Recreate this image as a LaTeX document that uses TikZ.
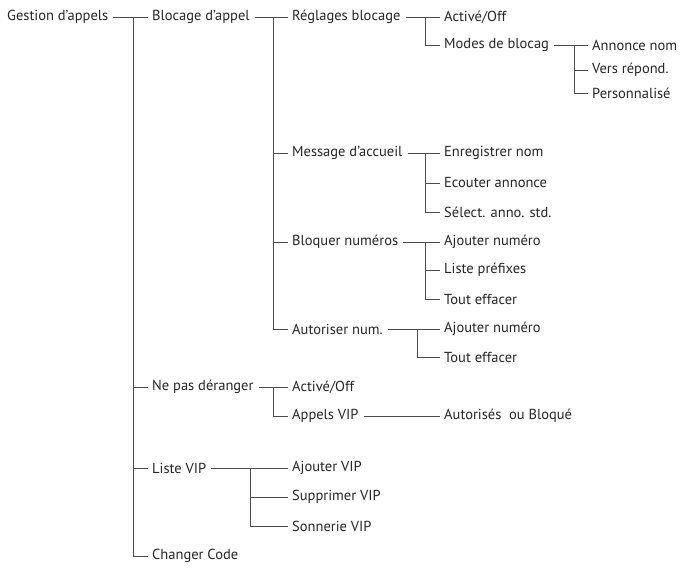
\documentclass[tikz,border=0pt]{standalone}
\usepackage{fontspec}
\setmainfont{PT Sans}
\begin{document}
\begin{tikzpicture}[x=1pt,y=-1pt,
  t/.style={anchor=west,inner sep=0pt,font=\fontsize{14.5}{16}\selectfont,text=black!85},
  ln/.style={draw=black!70,line width=1pt}]
\useasboundingbox (0,0) rectangle (687,568);
\node[t] (g) at (7,17) {Gestion d'appels};
\node[t] (b) at (152,17) {Blocage d'appel};
\node[t] (np) at (152,387) {Ne pas déranger};
\node[t] (lv) at (152,468) {Liste VIP};
\node[t] (cc) at (152,556) {Changer Code};
\node[t] (r) at (292,17) {Réglages blocage};
\node[t] (m) at (292,153) {Message d'accueil};
\node[t] (bn) at (292,242) {Bloquer numéros};
\node[t] (an) at (292,329) {Autoriser num.};
\node[t] (a1) at (444,17) {Activé/Off};
\node[t] (mo) at (444,45) {Modes de blocag};
\node[t] (ann) at (592,45) {Annonce nom};
\node[t] (vr) at (592,70) {Vers répond.};
\node[t] (pe) at (592,93) {Personnalisé};
\node[t] (en) at (444,153) {Enregistrer nom};
\node[t] (ec) at (444,183) {Ecouter annonce};
\node[t] (se) at (444,212) {Sélect. anno. std.};
\node[t] (aj1) at (444,242) {Ajouter numéro};
\node[t] (lp) at (444,270) {Liste préfixes};
\node[t] (te1) at (444,299) {Tout effacer};
\node[t] (aj2) at (444,329) {Ajouter numéro};
\node[t] (te2) at (444,357) {Tout effacer};
\node[t] (ac2) at (292,387) {Activé/Off};
\node[t] (av) at (292,416) {Appels VIP};
\node[t] (ab) at (444,416) {Autorisés\ \ ou Bloqué};
\node[t] (ajv) at (292,468) {Ajouter VIP};
\node[t] (sv) at (292,497) {Supprimer VIP};
\node[t] (snv) at (292,526) {Sonnerie VIP};
\coordinate (v1) at (133,0);
\coordinate (v2) at (273,0);
\coordinate (v3) at (425,0);
\coordinate (v4) at (574,0);
\coordinate (v5) at (417,0);
\coordinate (v6) at (250,0);
\foreach \p/\c in {g/b,b/r,r/a1,mo/ann,m/en,bn/aj1,an/aj2,np/ac2,av/ab,lv/ajv}
  \draw[ln] ([xshift=5pt]\p.east) -- ([xshift=-4pt]\c.west);
\foreach \p/\c/\v in {b/cc/v1,r/an/v2,a1/mo/v3,ann/pe/v4,en/se/v3,aj1/te1/v3,aj2/te2/v5,ac2/av/v2,ajv/snv/v6}
  \draw[ln] (\p.west -| \v) -- (\c.west -| \v) -- ([xshift=-4pt]\c.west);
\foreach \c/\v in {np/v1,lv/v1,m/v2,bn/v2,vr/v4,ec/v3,lp/v3,sv/v6}
  \draw[ln] (\c.west -| \v) -- ([xshift=-4pt]\c.west);
\end{tikzpicture}
\end{document}
